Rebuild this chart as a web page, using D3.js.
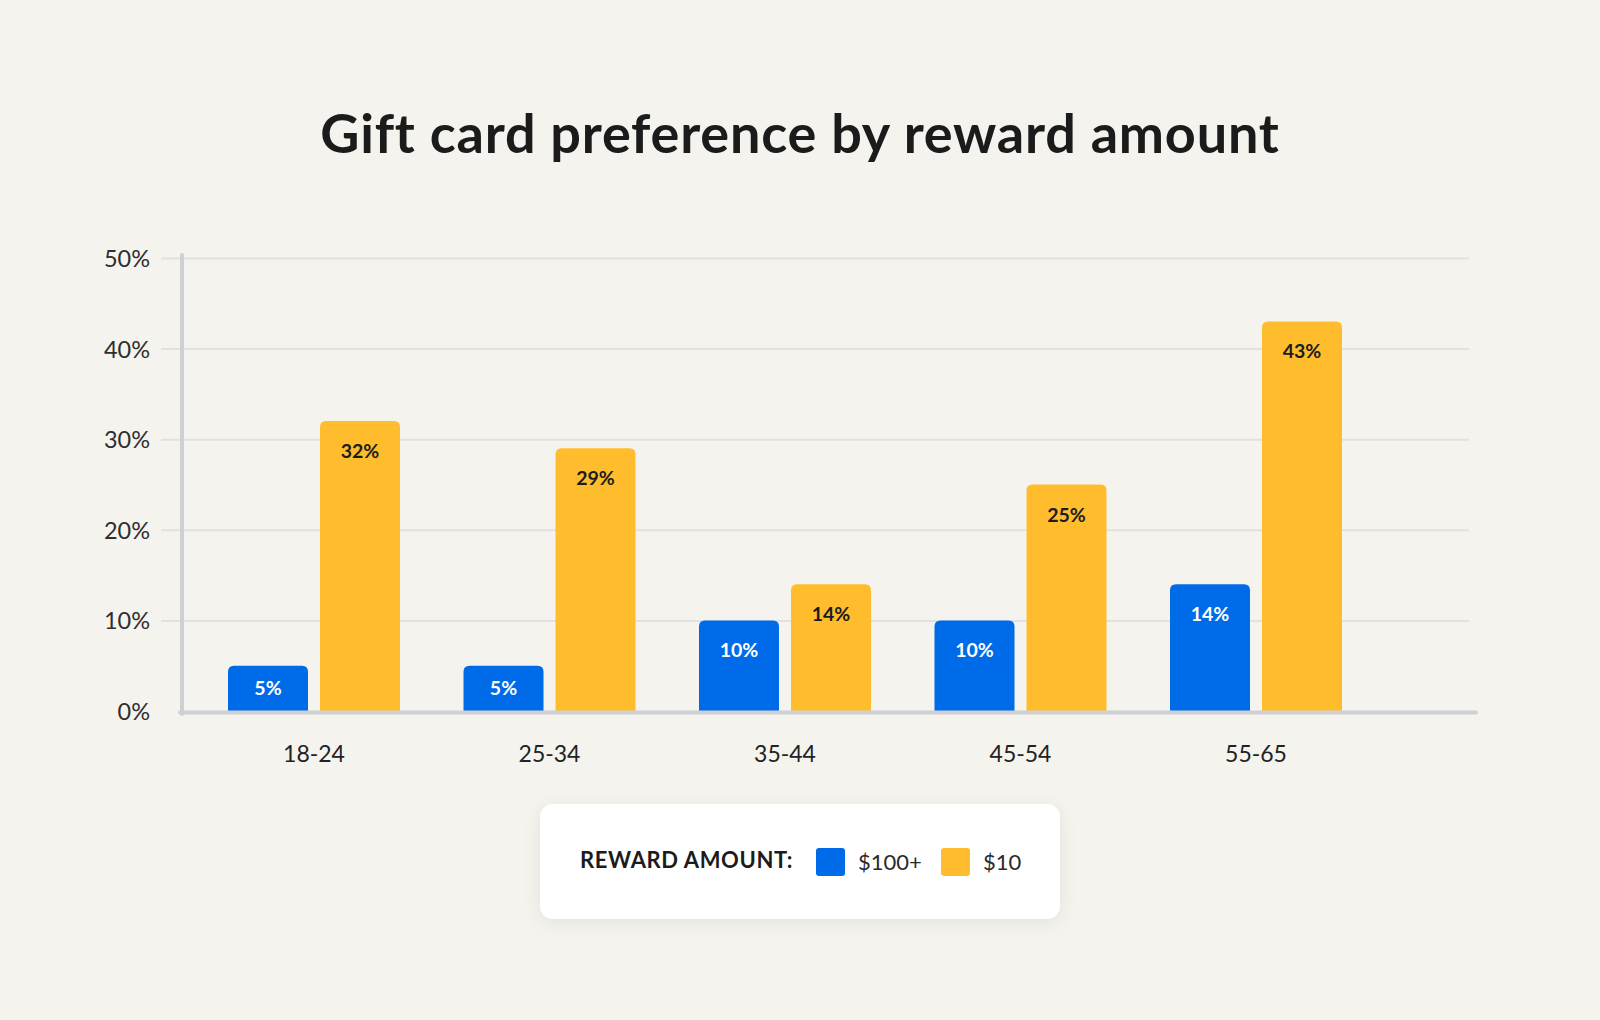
<!DOCTYPE html>
<html><head><meta charset="utf-8">
<script src="https://cdn.jsdelivr.net/npm/d3@7"></script>
<style>
html,body{margin:0;padding:0;background:#f5f3ee;}
svg{display:block;}
</style></head>
<body>
<svg id="chart" width="1600" height="1020"></svg>
<script>
// ---- data ----
const title = "Gift card preference by reward amount";
const categories = ["18-24", "25-34", "35-44", "45-54", "55-65"];
const seriesNames = ["$100+", "$10"];
const values100 = [5, 5, 10, 10, 14];
const values10 = [32, 29, 14, 25, 43];
const yTicks = [0, 10, 20, 30, 40, 50];
const legendTitle = "REWARD AMOUNT:";
const colors = ["#006be9", "#ffbd2d"];
const labelColors = ["#ffffff", "#1c1c1c"];

const FONT = "Lato, 'Noto Sans', sans-serif";
const svg = d3.select("#chart");

svg.append("rect").attr("width", 1600).attr("height", 1020).attr("fill", "#f5f3ee");

// title
svg.append("text").attr("x", 800).attr("y", 153).attr("text-anchor", "middle")
  .attr("font-family", FONT).attr("font-weight", 700).attr("font-size", 54)
  .attr("letter-spacing", 0.8)
  .attr("fill", "#1b1b1b").text(title);

// scales
const y = d3.scaleLinear().domain([0, 50]).range([711, 258]);
const x = d3.scaleBand().domain(categories).range([228, 1342]).paddingInner(0.2696).paddingOuter(0);
const xs = d3.scaleBand().domain(seriesNames).range([0, x.bandwidth()]).paddingInner(12 / 92).paddingOuter(0);

// gridlines + y labels via axis
const gridLeft = 161, gridRight = 1469;
const yAxis = d3.axisLeft(y).tickValues(yTicks).tickFormat(d => d + "%")
  .tickSizeInner(-(gridRight - gridLeft)).tickSizeOuter(0).tickPadding(11);
const gy = svg.append("g").attr("transform", `translate(${gridLeft},0)`).call(yAxis);
gy.select(".domain").remove();
gy.selectAll(".tick line").attr("stroke", "#dfe1e3").attr("stroke-width", 2);
gy.selectAll(".tick text").attr("font-family", FONT).attr("font-size", 23.5)
  .attr("fill", "#2e2e2e").attr("dy", "0.36em");
gy.selectAll(".tick").filter(d => d === 0).select("line").remove();

// y axis line
svg.append("line").attr("x1", 182).attr("x2", 182).attr("y1", 255).attr("y2", 714)
  .attr("stroke", "#cfd0d3").attr("stroke-width", 4).attr("stroke-linecap", "round");

// bars
function topRounded(x0, y0, w, h, r) {
  r = Math.min(r, h);
  return `M${x0},${y0 + h}V${y0 + r}Q${x0},${y0} ${x0 + r},${y0}H${x0 + w - r}Q${x0 + w},${y0} ${x0 + w},${y0 + r}V${y0 + h}Z`;
}
const rows = categories.map((c, i) => ({ cat: c, vals: [values100[i], values10[i]] }));
const groups = svg.append("g").selectAll("g").data(rows).join("g")
  .attr("transform", d => `translate(${x(d.cat)},0)`);
const bars = groups.selectAll("g.bar").data(d => d.vals.map((v, j) => ({ s: seriesNames[j], j, v })))
  .join("g").attr("class", "bar");
bars.append("path")
  .attr("d", d => {
    const top = y(d.v), h = y(0) - top;
    return topRounded(xs(d.s), top, xs.bandwidth(), h, 6);
  })
  .attr("fill", d => colors[d.j]);
bars.append("text")
  .attr("x", d => xs(d.s) + xs.bandwidth() / 2)
  .attr("y", d => { const top = y(d.v), h = y(0) - top; return top + Math.min(37, h / 2 + 7); })
  .attr("text-anchor", "middle").attr("font-family", FONT).attr("font-weight", 700)
  .attr("font-size", 19.5).attr("fill", d => labelColors[d.j]).text(d => d.v + "%");

// x axis line
svg.append("line").attr("x1", 180).attr("x2", 1476).attr("y1", 712.5).attr("y2", 712.5)
  .attr("stroke", "#cfd0d3").attr("stroke-width", 4).attr("stroke-linecap", "round");

// x labels via axis
const xAxis = d3.axisBottom(x).tickSize(0).tickPadding(0);
const gx = svg.append("g").attr("transform", "translate(0,745)").call(xAxis);
gx.select(".domain").remove();
gx.selectAll(".tick text").attr("font-family", FONT).attr("font-size", 23)
  .attr("fill", "#222").attr("dy", "0.72em");

// legend
const defs = svg.append("defs");
const f = defs.append("filter").attr("id", "shadow").attr("x", "-20%").attr("y", "-40%").attr("width", "140%").attr("height", "180%");
f.append("feDropShadow").attr("dx", 0).attr("dy", 4).attr("stdDeviation", 9)
  .attr("flood-color", "#000").attr("flood-opacity", 0.07);
svg.append("rect").attr("x", 540).attr("y", 804).attr("width", 520).attr("height", 115)
  .attr("rx", 13).attr("fill", "#ffffff").attr("filter", "url(#shadow)");
svg.append("text").attr("x", 580).attr("y", 868).attr("font-family", FONT).attr("font-weight", 700)
  .attr("font-size", 22).attr("letter-spacing", 0.6).attr("fill", "#1c1c1c").text(legendTitle);
const legX = [816, 941];
seriesNames.forEach((s, i) => {
  svg.append("rect").attr("x", legX[i]).attr("y", 848).attr("width", 29).attr("height", 28)
    .attr("rx", 3).attr("fill", colors[i]);
  svg.append("text").attr("x", legX[i] + 42).attr("y", 870).attr("font-family", FONT)
    .attr("font-size", 22).attr("fill", "#2a2a2a").text(s);
});
</script>
</body></html>
